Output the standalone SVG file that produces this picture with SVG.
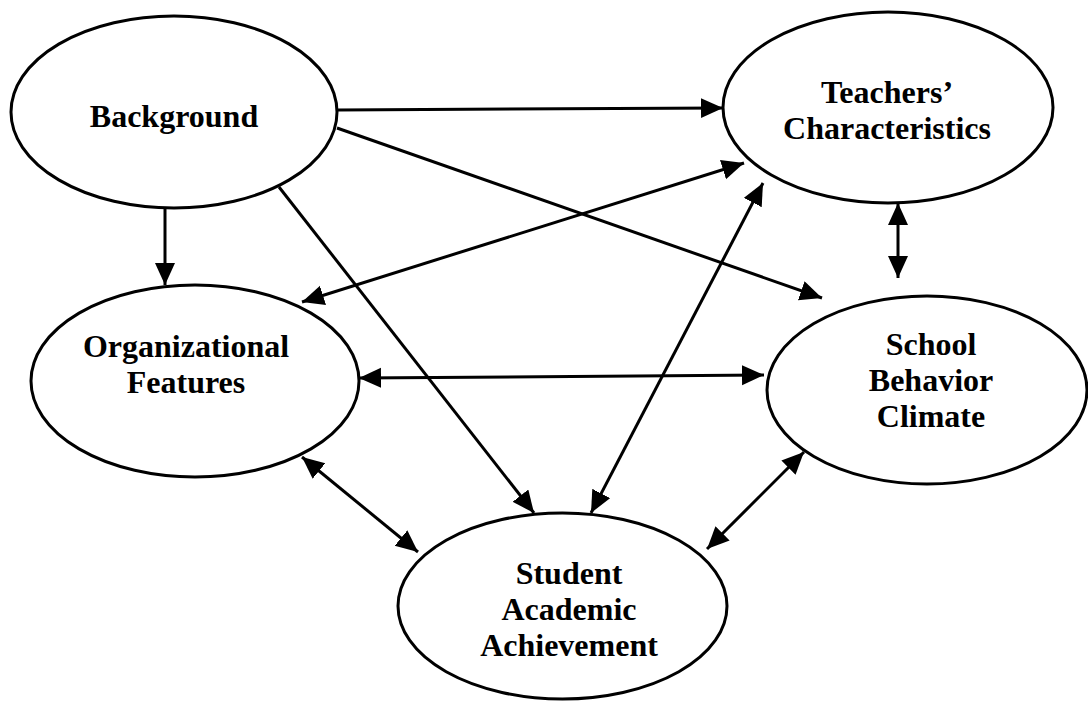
<svg xmlns="http://www.w3.org/2000/svg" width="1088" height="701" viewBox="0 0 1088 701">
<style>
.node ellipse{fill:#fff;stroke:#000;stroke-width:3}
.node text{font-family:"Liberation Serif","Times New Roman",serif;font-weight:bold;font-size:32px;text-anchor:middle;fill:#000}
.edges line{stroke:#000;stroke-width:3;fill:none}
.one{marker-end:url(#ah)}
.two{marker-start:url(#ah);marker-end:url(#ah)}
</style>
<defs>
<marker id="ah" markerUnits="userSpaceOnUse" markerWidth="24" markerHeight="22" refX="22" refY="10" orient="auto-start-reverse" viewBox="0 0 24 22">
<path d="M0,0 L22,10 L0,20 z" fill="#000"/>
</marker>
</defs>
<rect width="1088" height="701" fill="#fff"/>
<g id="background" class="node">
<ellipse cx="174" cy="112" rx="163" ry="96"/>
<text x="174" y="127">Background</text>
</g>
<g id="teachers" class="node">
<ellipse cx="888" cy="107.5" rx="165" ry="95.5"/>
<text x="887" y="103">Teachers’</text>
<text x="887" y="139">Characteristics</text>
</g>
<g id="organizational" class="node">
<ellipse cx="195" cy="381" rx="164" ry="96"/>
<text x="186" y="357">Organizational</text>
<text x="186" y="393">Features</text>
</g>
<g id="school" class="node">
<ellipse cx="927" cy="390" rx="160" ry="94"/>
<text x="931" y="355">School</text>
<text x="931" y="391">Behavior</text>
<text x="931" y="427">Climate</text>
</g>
<g id="student" class="node">
<ellipse cx="562.5" cy="606" rx="164.5" ry="93"/>
<text x="569" y="584">Student</text>
<text x="569" y="620">Academic</text>
<text x="569" y="656">Achievement</text>
</g>
<g id="connectors" class="edges">
<line class="one" x1="338" y1="110" x2="723" y2="108"/>
<line class="one" x1="337" y1="128" x2="822" y2="298"/>
<line class="one" x1="165" y1="208" x2="165" y2="285"/>
<line class="one" x1="279" y1="187" x2="534" y2="513"/>
<line class="two" x1="302" y1="302" x2="744" y2="163"/>
<line class="two" x1="763" y1="183" x2="591" y2="513"/>
<line class="two" x1="898" y1="203" x2="898" y2="278"/>
<line class="two" x1="359" y1="378" x2="764" y2="375"/>
<line class="two" x1="302" y1="457" x2="418" y2="552"/>
<line class="two" x1="804" y1="452" x2="707" y2="549"/>
</g>
</svg>
